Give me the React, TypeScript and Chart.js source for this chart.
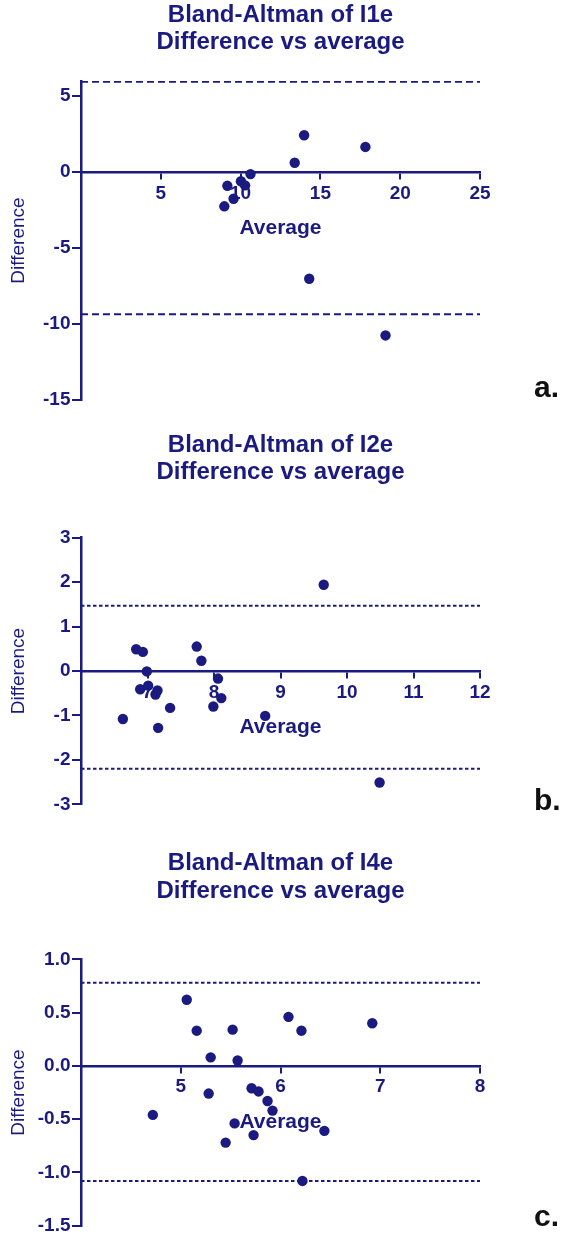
import React, { useEffect, useRef } from 'react';
import { Chart, registerables } from 'chart.js';

Chart.register(...registerables);

// ---------- data ----------
// Panel a: I1e
const titleA = ['Bland-Altman of I1e', 'Difference vs average'];
const avgA = [13.98, 17.82, 13.39, 10.62, 10.02, 10.28, 9.17, 9.56, 8.98, 14.3, 19.08];
const diffA = [2.43, 1.66, 0.62, -0.13, -0.6, -0.87, -0.9, -1.75, -2.25, -7.02, -10.75];
const limitsA = [5.95, -9.35];
const xTicksA = [0, 25, 5]; // min, max, step
const yTicksA = [-15, 6, 5];

// Panel b: I2e
const titleB = ['Bland-Altman of I2e', 'Difference vs average'];
const avgB = [9.65, 6.83, 6.93, 7.74, 7.81, 6.99, 8.06, 6.89, 7.01, 7.15, 7.12, 8.11, 7.99, 7.34, 8.77, 6.63, 7.16, 10.49];
const diffB = [1.94, 0.49, 0.43, 0.55, 0.23, -0.01, -0.17, -0.41, -0.33, -0.44, -0.53, -0.61, -0.8, -0.83, -1.01, -1.08, -1.28, -2.51];
const limitsB = [1.47, -2.2];
const xTicksB = [6, 12, 1];
const yTicksB = [-3, 3, 1];

// Panel c: I4e
const titleC = ['Bland-Altman of I4e', 'Difference vs average'];
const avgC = [5.06, 5.16, 5.52, 6.08, 6.21, 6.92, 5.3, 5.57, 5.28, 5.71, 5.78, 5.87, 5.92, 4.72, 5.54, 6.44, 5.73, 5.45, 6.22];
const diffC = [0.62, 0.33, 0.34, 0.46, 0.33, 0.4, 0.08, 0.05, -0.26, -0.21, -0.24, -0.33, -0.42, -0.46, -0.54, -0.61, -0.65, -0.72, -1.08];
const limitsC = [0.78, -1.08];
const xTicksC = [4, 8, 1];
const yTicksC = [-1.5, 1.0, 0.5];

const xLabel = 'Average';
const yLabel = 'Difference';
const panelLetters = ['a.', 'b.', 'c.'];

// ---------- style ----------
const NAVY = '#1a1a80';
const FONT = '"Liberation Sans", Arial, Helvetica, sans-serif';

type PanelDef = {
  title: string[];
  avg: number[];
  diff: number[];
  limits: number[];
  xT: number[];
  yT: number[];
  dash: number[];
  yDecimals: number;
  top: number;
  height: number;
  padTop: number;
  padBottom: number;
  layoutBottom: number;
};

const panels: PanelDef[] = [
  { title: titleA, avg: avgA, diff: diffA, limits: limitsA, xT: xTicksA, yT: yTicksA, dash: [7, 4], yDecimals: 0,
    top: 0, height: 415, padTop: 1.2, padBottom: 24.6, layoutBottom: 15 },
  { title: titleB, avg: avgB, diff: diffB, limits: limitsB, xT: xTicksB, yT: yTicksB, dash: [3.5, 2.5], yDecimals: 0,
    top: 420, height: 400, padTop: 11.2, padBottom: 51.3, layoutBottom: 15.7 },
  { title: titleC, avg: avgC, diff: diffC, limits: limitsC, xT: xTicksC, yT: yTicksC, dash: [3.5, 2.5], yDecimals: 1,
    top: 840, height: 402, padTop: 9.5, padBottom: 54.6, layoutBottom: 16.3 },
];

const letterTops = [371.5, 784.5, 1200.5];

const onStep = (v: number, min: number, step: number) => {
  const k = (v - min) / step;
  return Math.abs(k - Math.round(k)) < 1e-6;
};

function Panel({ p }: { p: PanelDef }) {
  const ref = useRef<HTMLCanvasElement | null>(null);
  useEffect(() => {
    if (!ref.current) return;
    const [xmin, xmax, xstep] = p.xT;
    const [ymin, ymax, ystep] = p.yT;
    const limitLine = (v: number) => ({
      type: 'line' as const,
      data: [{ x: xmin, y: v }, { x: xmax, y: v }],
      borderColor: NAVY,
      borderWidth: 2,
      borderDash: p.dash,
      pointRadius: 0,
      fill: false,
    });
    const chart = new Chart(ref.current, {
      type: 'scatter',
      data: {
        datasets: [
          {
            type: 'scatter',
            data: p.avg.map((x, i) => ({ x, y: p.diff[i] })),
            pointRadius: 5.2,
            pointHoverRadius: 5.2,
            backgroundColor: NAVY,
            borderWidth: 0,
            clip: false,
          } as any,
          limitLine(p.limits[0]) as any,
          limitLine(p.limits[1]) as any,
        ],
      },
      options: {
        responsive: false,
        animation: false,
        devicePixelRatio: 1,
        events: [],
        layout: { padding: { left: 0, right: 85, top: 0, bottom: p.layoutBottom } },
        plugins: {
          legend: { display: false },
          tooltip: { enabled: false },
          title: {
            display: true,
            text: p.title,
            color: NAVY,
            fullSize: false,
            font: { family: FONT, size: 24, weight: 'bold', lineHeight: 1.15 },
            padding: { top: p.padTop, bottom: p.padBottom },
          },
        },
        scales: {
          x: {
            type: 'linear',
            position: { y: 0 } as any,
            min: xmin,
            max: xmax,
            bounds: 'data',
            afterBuildTicks: (s: any) => {
              s.ticks = s.ticks.filter((t: any) => onStep(t.value, xmin, xstep));
            },
            grid: { drawOnChartArea: false, drawTicks: true, tickLength: 6, color: NAVY, lineWidth: 2 },
            border: { display: true, color: NAVY, width: 2.5 },
            ticks: {
              stepSize: xstep,
              autoSkip: false,
              maxRotation: 0,
              minRotation: 0,
              padding: 4,
              color: NAVY,
              font: { family: FONT, size: 19, weight: 'bold', lineHeight: 1.2 },
              callback: (v: any, i: number) => (i === 0 ? '' : String(Math.round(Number(v) * 100) / 100)),
            },
            title: {
              display: true,
              text: xLabel,
              color: NAVY,
              font: { family: FONT, size: 21, weight: 'bold', lineHeight: 1.2 },
              padding: { top: 7, bottom: 0 },
            },
          },
          y: {
            type: 'linear',
            position: 'left',
            min: ymin,
            max: ymax,
            bounds: 'data',
            afterBuildTicks: (s: any) => {
              s.ticks = s.ticks.filter((t: any) => onStep(t.value, ymin, ystep));
            },
            afterFit: (s: any) => {
              s.width = 81;
            },
            grid: { drawOnChartArea: false, drawTicks: true, tickLength: 9, color: NAVY, lineWidth: 2 },
            border: { display: true, color: NAVY, width: 2.5 },
            ticks: {
              stepSize: ystep,
              autoSkip: false,
              padding: 1.5,
              color: NAVY,
              font: { family: FONT, size: 19, weight: 'bold', lineHeight: 1.2 },
              callback: (v: any) => Number(v).toFixed(p.yDecimals),
            },
            title: {
              display: true,
              text: yLabel,
              color: NAVY,
              font: { family: FONT, size: 19, weight: 'normal', lineHeight: 1.2 },
              padding: { top: 7, bottom: 0 },
            },
          },
        },
      } as any,
    });
    return () => chart.destroy();
  }, [p]);
  return (
    <canvas
      ref={ref}
      width={565}
      height={p.height}
      style={{ position: 'absolute', left: 0, top: p.top, width: 565, height: p.height, display: 'block' }}
    />
  );
}

export default function App() {
  return (
    <div
      style={{
        position: 'absolute',
        left: 0,
        top: 0,
        width: 565,
        height: 1247,
        background: '#ffffff',
        overflow: 'hidden',
      }}
    >
      {panels.map((p, i) => (
        <Panel key={i} p={p} />
      ))}
      {panelLetters.map((t, i) => (
        <div
          key={t}
          style={{
            position: 'absolute',
            left: 534,
            top: letterTops[i],
            fontFamily: FONT,
            fontWeight: 'bold',
            fontSize: 30,
            lineHeight: '30px',
            color: '#111111',
            whiteSpace: 'nowrap',
          }}
        >
          {t}
        </div>
      ))}
    </div>
  );
}
